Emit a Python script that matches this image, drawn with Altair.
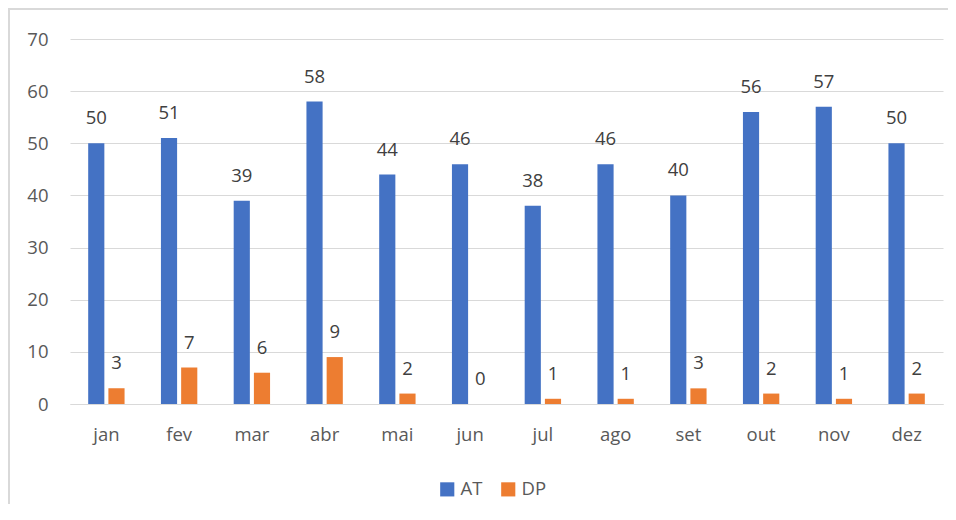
import altair as alt
import pandas as pd

months = ["jan", "fev", "mar", "abr", "mai", "jun", "jul", "ago", "set", "out", "nov", "dez"]
at_values = [50, 51, 39, 58, 44, 46, 38, 46, 40, 56, 57, 50]
dp_values = [3, 7, 6, 9, 2, 0, 1, 1, 3, 2, 1, 2]
series = ["AT", "DP"]
colors = ["#4472C4", "#ED7D31"]
y_ticks = [0, 10, 20, 30, 40, 50, 60, 70]

rows = []
for m, a, d in zip(months, at_values, dp_values):
    rows.append({"mes": m, "serie": "AT", "valor": a})
    rows.append({"mes": m, "serie": "DP", "valor": d})
df = pd.DataFrame(rows)

FONT = "Open Sans"
FS = 18.5

x_enc = alt.X("mes:N", sort=months, title=None,
              scale=alt.Scale(paddingInner=0.5, paddingOuter=0.25),
              axis=alt.Axis(labelAngle=0, labelFontSize=FS, labelColor="#595959",
                            labelPadding=21, ticks=False, domain=True, grid=False,
                            domainColor="#d9d9d9", labelFont=FONT))
y_enc = alt.Y("valor:Q", title=None,
              scale=alt.Scale(domain=[0, 70], nice=False),
              axis=alt.Axis(values=y_ticks, labelFontSize=FS, labelColor="#595959",
                            labelPadding=22, ticks=False, domain=False,
                            gridColor="#d9d9d9", gridWidth=1, labelFont=FONT))
xo = alt.XOffset("serie:N", sort=series,
                 scale=alt.Scale(paddingInner=0.2, paddingOuter=0))

base = alt.Chart(df)

bars = base.mark_bar().encode(
    x=x_enc, y=y_enc, xOffset=xo,
    color=alt.Color("serie:N", sort=series,
                    scale=alt.Scale(domain=series, range=colors),
                    legend=alt.Legend(title=None, orient="none", direction="horizontal",
                                      legendX=368, legendY=441,
                                      symbolType="square", symbolSize=200,
                                      symbolStrokeWidth=0,
                                      labelFontSize=FS, labelColor="#595959",
                                      labelFont=FONT, columnPadding=16,
                                      symbolOffset=0, labelOffset=4)),
)

labels = base.mark_text(baseline="bottom", dy=-15, fontSize=FS, color="#404040",
                        font=FONT).encode(
    x=x_enc, y=y_enc, xOffset=xo, text="valor:Q"
)

border = alt.Chart(pd.DataFrame({"k": [0]})).mark_rule(color="#d9d9d9", strokeWidth=2).encode(
    x=alt.value(-62), x2=alt.value(900), y=alt.value(-30)
)
border_left = alt.Chart(pd.DataFrame({"k": [0]})).mark_rule(color="#d9d9d9", strokeWidth=2).encode(
    x=alt.value(-61), y=alt.value(-30), y2=alt.value(470)
)

chart = alt.layer(bars, labels, border, border_left).properties(
    width=873, height=365,
    padding={"left": 62, "top": 31, "right": 5, "bottom": 100},
    autosize=alt.AutoSizeParams(type="none"),
    background="white",
).configure_view(stroke=None)

chart.save("out.html", embed_options={"renderer": "svg", "actions": False})
